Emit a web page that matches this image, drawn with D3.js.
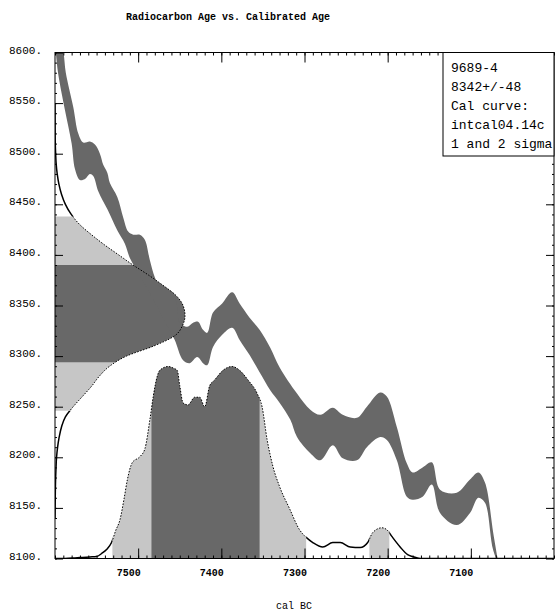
<!DOCTYPE html>
<html><head><meta charset="utf-8">
<script src="https://cdn.jsdelivr.net/npm/d3@7"></script>
<style>body{margin:0;background:#fff;} svg{display:block;}</style>
</head><body>
<svg id="chart" width="558" height="614"></svg>
<script>
// ---------- data ----------
const titleText = "Radiocarbon Age vs. Calibrated Age";
const xTitle = "cal BC";
const legendLines = ["9689-4", "8342+/-48", "Cal curve:", "intcal04.14c", "1 and 2 sigma"];
const xDomain = [7600, 7000];
const yDomain = [8100, 8600];
const xTicks = [7500, 7400, 7300, 7200, 7100];
const yTicks = [8100, 8150, 8200, 8250, 8300, 8350, 8400, 8450, 8500, 8550, 8600];

// calibration curve band: upper edge
const bandUpperYear = [7600, 7595, 7590, 7587, 7578, 7572, 7566, 7558, 7552, 7546, 7542, 7537, 7534, 7525, 7518, 7512, 7506, 7498, 7492, 7486, 7480, 7474, 7464, 7458, 7454, 7452, 7450, 7441, 7434, 7428, 7422, 7417, 7410, 7399, 7387, 7378, 7366, 7354, 7341, 7330, 7309, 7293, 7281, 7266, 7254, 7237, 7225, 7209, 7201, 7189, 7177, 7170, 7158, 7147, 7137, 7117, 7101, 7091, 7083, 7073, 7068, 7059];
const bandUpperAge  = [8637, 8612, 8600, 8580, 8546, 8520, 8511, 8512, 8509, 8500, 8489, 8481, 8471, 8457, 8437, 8423, 8420, 8420, 8415, 8395, 8378, 8369, 8365, 8362, 8353, 8338, 8333, 8329, 8333, 8334, 8326, 8323, 8343, 8352, 8363, 8352, 8338, 8326, 8308, 8289, 8263, 8247, 8242, 8249, 8242, 8239, 8250, 8264, 8260, 8230, 8194, 8185, 8190, 8195, 8168, 8165, 8178, 8185, 8175, 8125, 8101, 8059];
// calibration curve band: lower edge
const bandLowerYear = [7600, 7599, 7596, 7588, 7580, 7576, 7570, 7564, 7558, 7554, 7548, 7537, 7525, 7516, 7510, 7498, 7486, 7474, 7462, 7456, 7446, 7438, 7429, 7422, 7417, 7410, 7399, 7387, 7378, 7366, 7354, 7341, 7330, 7317, 7309, 7293, 7281, 7266, 7254, 7237, 7225, 7209, 7201, 7189, 7177, 7170, 7158, 7147, 7137, 7117, 7101, 7091, 7083, 7073, 7061];
const bandLowerAge  = [8612, 8600, 8578, 8543, 8510, 8485, 8474, 8475, 8480, 8478, 8463, 8445, 8424, 8411, 8397, 8380, 8362, 8344, 8325, 8316, 8296, 8293, 8299, 8293, 8291, 8309, 8321, 8328, 8316, 8301, 8284, 8266, 8254, 8237, 8220, 8204, 8197, 8212, 8199, 8197, 8210, 8220, 8217, 8197, 8161, 8158, 8161, 8173, 8145, 8133, 8145, 8160, 8155, 8108, 8084];

// radiocarbon date (8342 +/- 48) relative probability along the y axis
const c14Age     = [8140, 8150, 8160, 8170, 8180, 8190, 8200, 8210, 8220, 8230, 8240, 8250, 8260, 8270, 8280, 8290, 8300, 8310, 8320, 8330, 8340, 8350, 8360, 8370, 8380, 8390, 8400, 8410, 8420, 8430, 8440, 8450, 8460, 8470, 8480, 8490, 8500, 8510, 8520, 8530, 8540, 8550];
const c14Density = [0, 0.001, 0.002, 0.003, 0.005, 0.008, 0.012, 0.02, 0.032, 0.05, 0.08, 0.14, 0.21, 0.28, 0.34, 0.42, 0.55, 0.76, 0.92, 0.98, 1.0, 0.985, 0.93, 0.83, 0.72, 0.6, 0.49, 0.38, 0.28, 0.19, 0.125, 0.08, 0.05, 0.03, 0.017, 0.009, 0.005, 0.002, 0.001, 0.0005, 0.0002, 0];
const c14OneSigma = [8294, 8390];
const c14TwoSigma = [8246, 8438];

// calibrated age relative probability along the x axis
const calYear = [7600, 7588, 7576, 7570, 7558, 7550, 7544, 7538, 7532, 7527, 7522, 7517, 7513, 7507, 7498, 7492, 7486, 7482, 7477, 7474, 7464, 7457, 7453, 7450, 7446, 7440, 7432, 7426, 7420, 7414, 7408, 7398, 7387, 7378, 7368, 7357, 7351, 7345, 7338, 7330, 7318, 7306, 7298, 7290, 7278, 7266, 7257, 7245, 7233, 7224, 7218, 7207, 7201, 7195, 7185, 7176, 7170, 7161, 7000];
const calProb = [0, 0, 0.003, 0.005, 0.008, 0.01, 0.026, 0.047, 0.083, 0.146, 0.2, 0.31, 0.41, 0.5, 0.53, 0.57, 0.72, 0.84, 0.95, 0.98, 1.0, 0.99, 0.98, 0.9, 0.81, 0.8, 0.84, 0.84, 0.79, 0.9, 0.93, 0.98, 1.0, 0.98, 0.93, 0.86, 0.79, 0.62, 0.48, 0.375, 0.26, 0.15, 0.11, 0.083, 0.06, 0.083, 0.083, 0.06, 0.057, 0.083, 0.135, 0.16, 0.15, 0.115, 0.06, 0.02, 0.01, 0, 0];
const calOneSigma = [[7484, 7354]];
const calTwoSigma = [[7531, 7298], [7222, 7198]];

// ---------- drawing ----------
const svg = d3.select("#chart");
const P = {left: 55, right: 554, top: 52.5, bottom: 558.5};
const darkFill = "#686868", lightFill = "#c6c6c6";
const x = d3.scaleLinear().domain(xDomain).range([P.left, P.right]);
const y = d3.scaleLinear().domain(yDomain).range([P.bottom, P.top]);
const dens = d3.scaleLinear().domain([0, 1]).range([P.left, P.left + 130]);
const prob = d3.scaleLinear().domain([0, 1]).range([P.bottom, P.bottom - 192]);

const defs = svg.append("defs");
function clip(id, rects) {
  const cp = defs.append("clipPath").attr("id", id);
  rects.forEach(r => cp.append("rect").attr("x", r[0]).attr("y", r[1]).attr("width", Math.max(0, r[2] - r[0])).attr("height", Math.max(0, r[3] - r[1])));
}
clip("plotClip", [[P.left, P.top, P.right, P.bottom]]);
clip("c14Two", [[P.left, y(c14TwoSigma[1]), P.right, y(c14TwoSigma[0])]]);
clip("c14One", [[P.left, y(c14OneSigma[1]), P.right, y(c14OneSigma[0])]]);
clip("c14Out", [[P.left, P.top, P.right, y(c14TwoSigma[1])], [P.left, y(c14TwoSigma[0]), P.right, P.bottom]]);
clip("calTwo", calTwoSigma.map(r => [x(r[0]), P.top, x(r[1]), P.bottom]));
clip("calOne", calOneSigma.map(r => [x(r[0]), P.top, x(r[1]), P.bottom]));
{
  const edges = [P.left];
  calTwoSigma.slice().sort((a, b) => x(a[0]) - x(b[0])).forEach(r => { edges.push(x(r[0]), x(r[1])); });
  edges.push(P.right);
  const outs = [];
  for (let i = 0; i < edges.length; i += 2) outs.push([edges[i], P.top, edges[i + 1], P.bottom]);
  clip("calOut", outs);
}

const g = svg.append("g").attr("clip-path", "url(#plotClip)");

// radiocarbon distribution
const c14Pts = c14Age.map((a, i) => ({a, d: c14Density[i]}));
const c14Area = d3.area().curve(d3.curveMonotoneY).y(d => y(d.a)).x0(P.left).x1(d => dens(d.d));
const c14Line = d3.line().curve(d3.curveMonotoneY).y(d => y(d.a)).x(d => dens(d.d));
g.append("path").attr("d", c14Area(c14Pts)).attr("fill", lightFill).attr("clip-path", "url(#c14Two)");
g.append("path").attr("d", c14Area(c14Pts)).attr("fill", darkFill).attr("clip-path", "url(#c14One)");

// calibration band
const lineGen = d3.line().curve(d3.curveCatmullRom.alpha(0.5));
const upperPts = bandUpperYear.map((yr, i) => [x(yr), y(bandUpperAge[i])]);
const lowerPts = bandLowerYear.map((yr, i) => [x(yr), y(bandLowerAge[i])]).reverse();
g.append("path")
  .attr("d", lineGen(upperPts) + lineGen(lowerPts).replace(/^M/, "L") + "Z")
  .attr("fill", darkFill);

// calibrated distribution
const calPts = calYear.map((yr, i) => ({yr, p: calProb[i]}));
const calArea = d3.area().curve(d3.curveMonotoneX).x(d => x(d.yr)).y0(P.bottom).y1(d => prob(d.p));
const calLine = d3.line().curve(d3.curveMonotoneX).x(d => x(d.yr)).y(d => prob(d.p));
g.append("path").attr("d", calArea(calPts)).attr("fill", lightFill).attr("clip-path", "url(#calTwo)");
g.append("path").attr("d", calArea(calPts)).attr("fill", darkFill).attr("clip-path", "url(#calOne)");

// outlines
g.append("path").attr("d", c14Line(c14Pts)).attr("fill", "none").attr("stroke", "#000").attr("stroke-width", 1.5).attr("clip-path", "url(#c14Out)");
g.append("path").attr("d", c14Line(c14Pts)).attr("fill", "none").attr("stroke", "#000").attr("stroke-width", 1).attr("stroke-dasharray", "1.5,1.5").attr("clip-path", "url(#c14Two)");
g.append("path").attr("d", calLine(calPts)).attr("fill", "none").attr("stroke", "#000").attr("stroke-width", 1.5).attr("clip-path", "url(#calOut)");
g.append("path").attr("d", calLine(calPts)).attr("fill", "none").attr("stroke", "#000").attr("stroke-width", 1).attr("stroke-dasharray", "1.5,1.5").attr("clip-path", "url(#calTwo)");

// frame
svg.append("rect").attr("x", P.left).attr("y", P.top).attr("width", P.right - P.left).attr("height", P.bottom - P.top)
  .attr("fill", "none").attr("stroke", "#000").attr("stroke-width", 1);

// axes
const xMinor = d3.range(xDomain[1], xDomain[0] + 1, 10);
const yMinor = d3.range(yDomain[0], yDomain[1] + 1, 10);
function styleAxis(sel) { sel.select(".domain").remove(); sel.selectAll("line").attr("stroke", "#000"); }
svg.append("g").attr("transform", `translate(0,${P.bottom})`).call(d3.axisBottom(x).tickValues(xMinor).tickSize(-3).tickFormat("")).call(styleAxis);
svg.append("g").attr("transform", `translate(0,${P.top})`).call(d3.axisTop(x).tickValues(xMinor).tickSize(-3).tickFormat("")).call(styleAxis);
svg.append("g").attr("transform", `translate(${P.left},0)`).call(d3.axisLeft(y).tickValues(yMinor).tickSize(-2).tickFormat("")).call(styleAxis);
svg.append("g").attr("transform", `translate(${P.right},0)`).call(d3.axisRight(y).tickValues(yMinor).tickSize(-2).tickFormat("")).call(styleAxis);

const xb = svg.append("g").attr("transform", `translate(0,${P.bottom})`)
  .call(d3.axisBottom(x).tickValues(xTicks).tickSize(-10).tickPadding(10).tickFormat(d => d)).call(styleAxis);
xb.selectAll("text").attr("dx", -10).attr("font-family", "Liberation Mono, monospace").attr("font-size", 10).attr("font-weight", "bold").attr("fill", "#000");
svg.append("g").attr("transform", `translate(0,${P.top})`).call(d3.axisTop(x).tickValues(xTicks).tickSize(-10).tickFormat("")).call(styleAxis);

const yl = svg.append("g").attr("transform", `translate(${P.left},0)`)
  .call(d3.axisLeft(y).tickValues(yTicks).tickSize(-8).tickPadding(13).tickFormat(d => d + ".")).call(styleAxis);
yl.selectAll("text").attr("dy", "0.05em").attr("font-family", "Liberation Mono, monospace").attr("font-size", 11).attr("fill", "#000");
svg.append("g").attr("transform", `translate(${P.right},0)`).call(d3.axisRight(y).tickValues(yTicks).tickSize(-8).tickFormat("")).call(styleAxis);

// titles
svg.append("text").attr("x", 228).attr("y", 20).attr("text-anchor", "middle")
  .attr("font-family", "Liberation Mono, monospace").attr("font-size", 10).attr("font-weight", "bold").text(titleText);
svg.append("text").attr("x", 294).attr("y", 609).attr("text-anchor", "middle")
  .attr("font-family", "Liberation Mono, monospace").attr("font-size", 10).text(xTitle);

// legend
const lg = svg.append("g");
lg.append("rect").attr("x", 443).attr("y", P.top).attr("width", P.right - 443).attr("height", 103.5)
  .attr("fill", "#fff").attr("stroke", "#000").attr("stroke-width", 1);
lg.selectAll("text.leg").data(legendLines).join("text").attr("class", "leg")
  .attr("x", 451).attr("y", (d, i) => 72 + i * 19)
  .attr("font-family", "Liberation Mono, monospace").attr("font-size", 13).text(d => d);
</script>
</body></html>
